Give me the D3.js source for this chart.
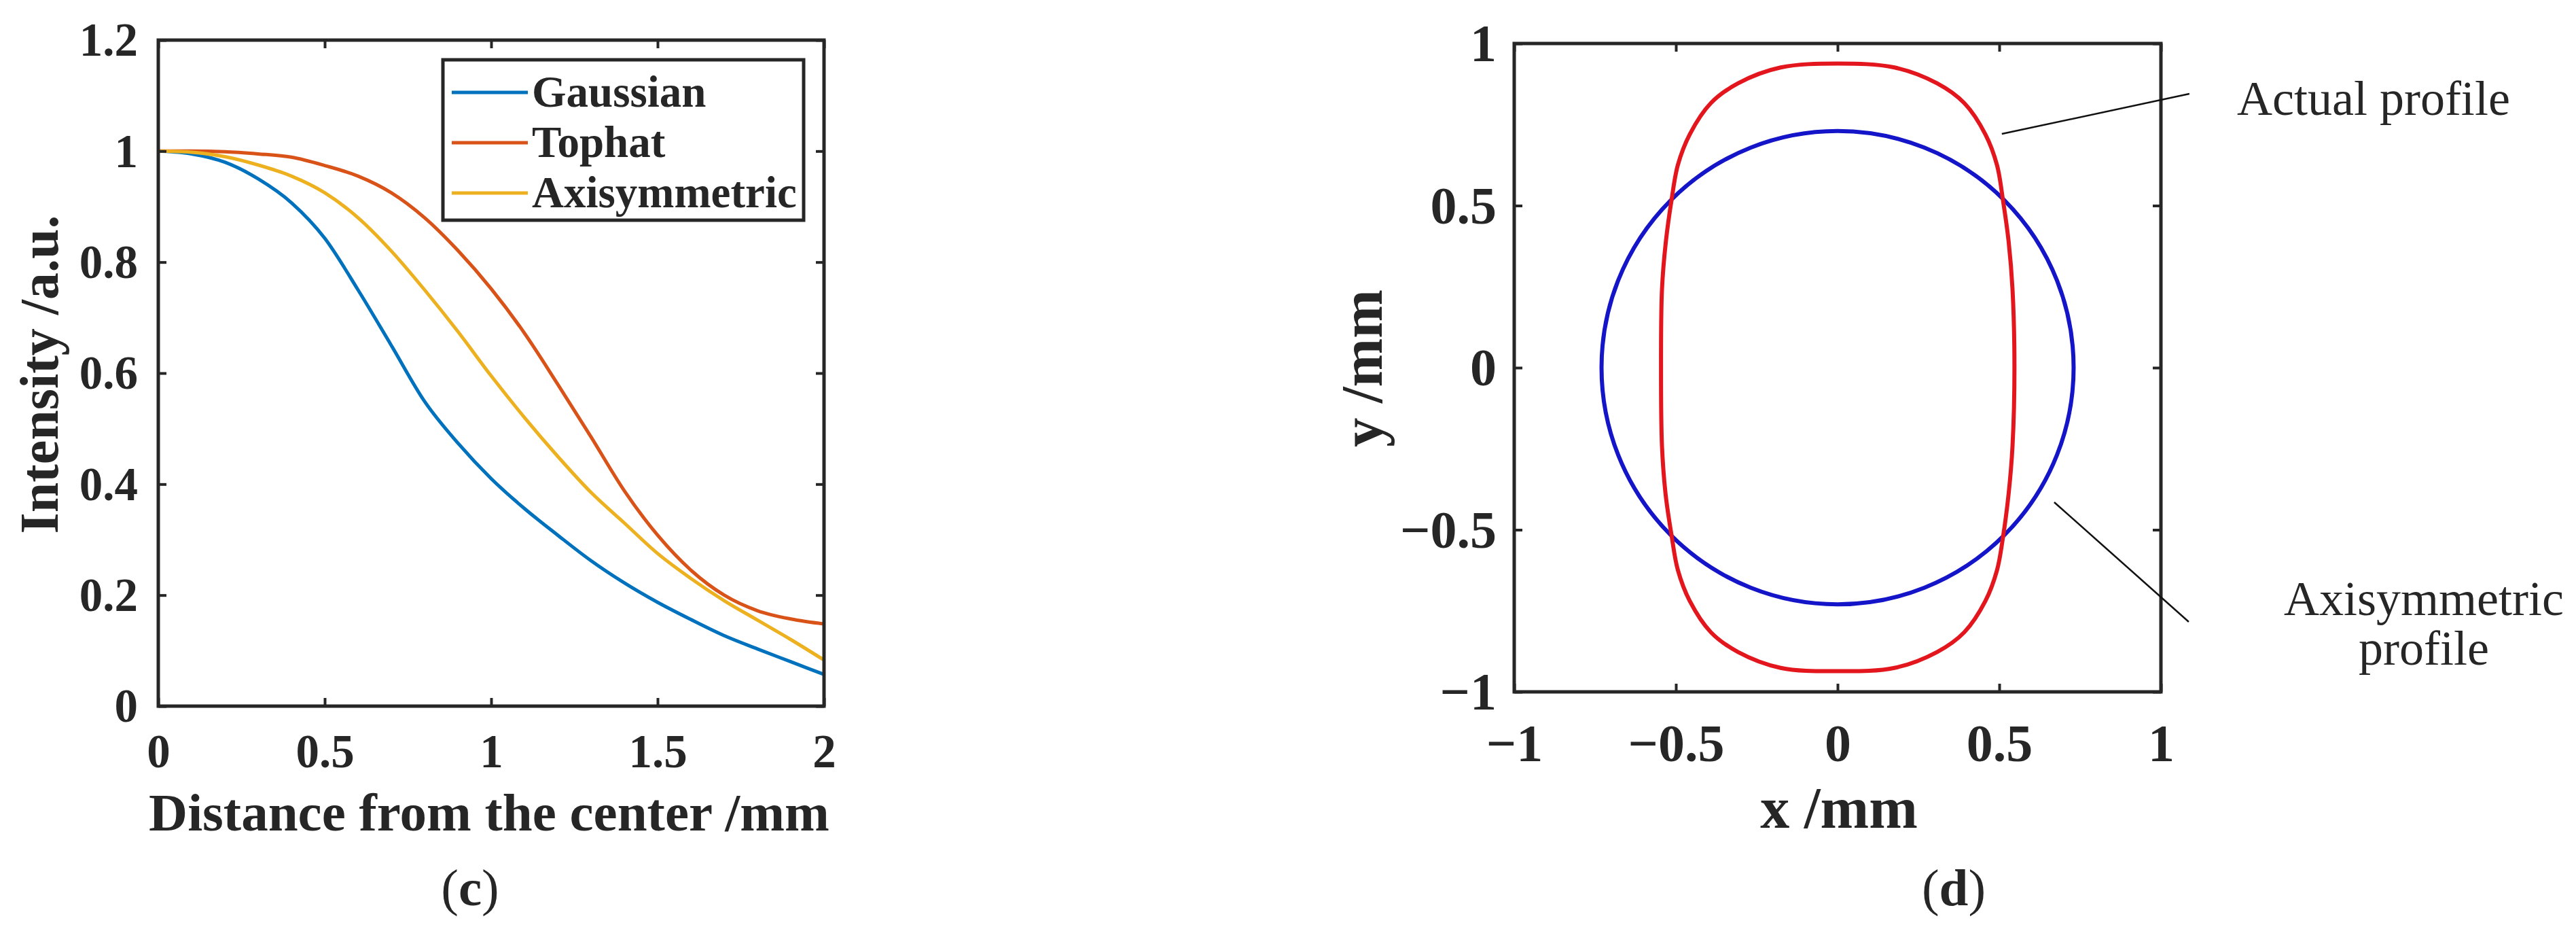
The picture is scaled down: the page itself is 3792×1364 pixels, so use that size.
<!DOCTYPE html>
<html>
<head>
<meta charset="utf-8">
<script src="https://cdn.jsdelivr.net/npm/d3@7"></script>
<style>
body { margin: 0; background: #fff; }
svg text { font-family: "Liberation Serif", "Times New Roman", serif; fill: #262626; }
</style>
</head>
<body>
<div id="chart"></div>
<script>

// ---- panel (c): intensity profiles ----
var distance = [0, 0.1, 0.2, 0.3, 0.4, 0.5, 0.6, 0.7, 0.8, 0.9, 1.0, 1.1, 1.2, 1.3, 1.4, 1.5, 1.6, 1.7, 1.8, 1.9, 2.0];
var gaussian = [1.0, 0.995, 0.98, 0.95, 0.907, 0.843, 0.75, 0.65, 0.549, 0.474, 0.41, 0.356, 0.308, 0.262, 0.222, 0.187, 0.156, 0.127, 0.103, 0.08, 0.057];
var tophat   = [1.0, 1.0, 0.999, 0.995, 0.989, 0.974, 0.955, 0.925, 0.88, 0.821, 0.752, 0.672, 0.58, 0.485, 0.388, 0.308, 0.245, 0.2, 0.172, 0.157, 0.148];
var axisym   = [1.0, 0.998, 0.99, 0.975, 0.955, 0.925, 0.88, 0.82, 0.75, 0.675, 0.595, 0.52, 0.45, 0.385, 0.33, 0.275, 0.23, 0.19, 0.155, 0.12, 0.083];
var seriesNames = ["Gaussian", "Tophat", "Axisymmetric"];
var seriesColors = ["#0072bd", "#d95319", "#edb120"];
var cTicksX = [0, 0.5, 1, 1.5, 2];
var cTicksY = [0, 0.2, 0.4, 0.6, 0.8, 1, 1.2];

// ---- panel (d): beam profiles ----
var actualX = [0, 0.176, 0.308, 0.392, 0.457, 0.493, 0.511, 0.529, 0.541, 0.547, 0.541, 0.529, 0.512, 0.493, 0.457, 0.392, 0.308, 0.176,
               0, -0.176, -0.308, -0.392, -0.457, -0.494, -0.513, -0.532, -0.543, -0.546, -0.543, -0.531, -0.513, -0.494, -0.457, -0.392, -0.308, -0.176];
var actualY = [0.938, 0.926, 0.877, 0.816, 0.72, 0.625, 0.52, 0.389, 0.242, 0, -0.242, -0.389, -0.52, -0.625, -0.72, -0.816, -0.877, -0.926,
               -0.936, -0.926, -0.877, -0.816, -0.72, -0.624, -0.52, -0.389, -0.242, 0, 0.242, 0.389, 0.52, 0.625, 0.72, 0.816, 0.877, 0.926];
var axisymRadius = [0.73];
var dTicks = [-1, -0.5, 0, 0.5, 1];
var leaderActual = [[0.508, 0.721], [1.088, 0.845]];
var leaderAxisym = [[0.67, -0.415], [1.086, -0.784]];

var axisColor = "#262626";

var svg = d3.select("#chart")
            .append("svg")
            .attr("width", 3792)
            .attr("height", 1364);
svg.append("rect").attr("width", 3792).attr("height", 1364).attr("fill", "#fff");

// inward ticks on all four sides, like a matlab box
function boxAxes(g, x, y, xt, yt, fmt, opt) {
  var x0 = x.range()[0], x1 = x.range()[1];
  var y0 = y.range()[0], y1 = y.range()[1];

  var axes = [
    {a: d3.axisBottom(x).tickValues(xt), t: "translate(0," + y0 + ")", lab: true},
    {a: d3.axisTop(x).tickValues(xt), t: "translate(0," + y1 + ")", lab: false},
    {a: d3.axisLeft(y).tickValues(yt), t: "translate(" + x0 + ",0)", lab: true},
    {a: d3.axisRight(y).tickValues(yt), t: "translate(" + x1 + ",0)", lab: false}
  ];
  axes.forEach(function(ax, i) {
    var gg = g.append("g")
              .attr("transform", ax.t)
              .call(ax.a.tickSize(-opt.tick).tickFormat(fmt));
    gg.attr("font-family", null).attr("font-size", null);
    gg.select(".domain").remove();
    gg.selectAll("line").attr("stroke", axisColor).attr("stroke-width", 4);
    if (!ax.lab) { gg.selectAll("text").remove(); return; }
    var txt = gg.selectAll("text")
                .style("font-size", opt.font + "px")
                .style("font-weight", "bold");
    if (i == 0) {
      txt.attr("y", opt.xPad).attr("dy", null);
    } else {
      txt.attr("x", -opt.yPad).attr("dy", "0.33em");
    }
  });

  g.append("rect")
   .attr("x", x0).attr("y", y1)
   .attr("width", x1 - x0).attr("height", y0 - y1)
   .attr("fill", "none")
   .attr("stroke", axisColor)
   .attr("stroke-width", 5);
}

// ===================== (c) =====================
var xc = d3.scaleLinear().domain([0, 2]).range([233, 1213]);
var yc = d3.scaleLinear().domain([0, 1.2]).range([1039, 59]);
var gc = svg.append("g");

var curves = [gaussian, tophat, axisym];
var lineC = d3.line()
              .x(function(d) { return xc(d[0]); })
              .y(function(d) { return yc(d[1]); })
              .curve(d3.curveMonotoneX);

gc.selectAll("path.curve")
  .data(curves)
  .enter()
  .append("path")
  .attr("class", "curve")
  .attr("d", function(s) { return lineC(distance.map(function(v, i) { return [v, s[i]]; })); })
  .attr("fill", "none")
  .attr("stroke", function(d, i) { return seriesColors[i]; })
  .attr("stroke-width", 5);

boxAxes(gc, xc, yc, cTicksX, cTicksY, function(d) { return String(d); },
        {tick: 12, font: 69, xPad: 90, yPad: 30});

// legend
var leg = gc.append("g");
leg.append("rect")
   .attr("x", 652).attr("y", 88)
   .attr("width", 531).attr("height", 236)
   .attr("fill", "#fff")
   .attr("stroke", axisColor)
   .attr("stroke-width", 5);
seriesNames.forEach(function(name, i) {
  var cy = 136 + i * 74;
  leg.append("line")
     .attr("x1", 665).attr("x2", 777)
     .attr("y1", cy).attr("y2", cy)
     .attr("stroke", seriesColors[i])
     .attr("stroke-width", 5);
  leg.append("text")
     .attr("x", 783).attr("y", cy)
     .attr("dy", "0.33em")
     .style("font-size", "65px")
     .style("font-weight", "bold")
     .text(name);
});

gc.append("text")
  .attr("x", 720).attr("y", 1222)
  .attr("text-anchor", "middle")
  .style("font-size", "79px").style("font-weight", "bold")
  .text("Distance from the center /mm");

gc.append("text")
  .attr("transform", "translate(85,551) rotate(-90)")
  .attr("text-anchor", "middle")
  .style("font-size", "80px").style("font-weight", "bold")
  .text("Intensity /a.u.");

var capC = gc.append("text")
  .attr("x", 692).attr("y", 1332)
  .attr("text-anchor", "middle")
  .style("font-size", "77px");
capC.append("tspan").text("(");
capC.append("tspan").style("font-weight", "bold").text("c");
capC.append("tspan").text(")");

// ===================== (d) =====================
var xd = d3.scaleLinear().domain([-1, 1]).range([2229, 3181]);
var yd = d3.scaleLinear().domain([-1, 1]).range([1018, 64]);
var gd = svg.append("g");

gd.append("ellipse")
  .datum(axisymRadius[0])
  .attr("cx", xd(0)).attr("cy", yd(0))
  .attr("rx", function(r) { return xd(r) - xd(0); })
  .attr("ry", function(r) { return yd(0) - yd(r); })
  .attr("fill", "none")
  .attr("stroke", "#1414c8")
  .attr("stroke-width", 6);

var lineD = d3.line()
              .x(function(d) { return xd(d[0]); })
              .y(function(d) { return yd(d[1]); })
              .curve(d3.curveCatmullRomClosed.alpha(0.5));
gd.append("path")
  .attr("d", lineD(actualX.map(function(v, i) { return [v, actualY[i]]; })))
  .attr("fill", "none")
  .attr("stroke", "#e3161e")
  .attr("stroke-width", 6);

boxAxes(gd, xd, yd, dTicks, dTicks,
        function(d) { return (d < 0 ? "\u2212" : "") + Math.abs(d); },
        {tick: 12, font: 78, xPad: 102, yPad: 26});

[leaderActual, leaderAxisym].forEach(function(l) {
  gd.append("line")
    .attr("x1", xd(l[0][0])).attr("y1", yd(l[0][1]))
    .attr("x2", xd(l[1][0])).attr("y2", yd(l[1][1]))
    .attr("stroke", "#111")
    .attr("stroke-width", 2.5);
});

gd.append("text").attr("x", 3293).attr("y", 169)
  .style("font-size", "72px").text("Actual profile");
gd.append("text").attr("x", 3568).attr("y", 905)
  .attr("text-anchor", "middle")
  .style("font-size", "72px").text("Axisymmetric");
gd.append("text").attr("x", 3568).attr("y", 978)
  .attr("text-anchor", "middle")
  .style("font-size", "72px").text("profile");

gd.append("text")
  .attr("x", 2707).attr("y", 1218)
  .attr("text-anchor", "middle")
  .style("font-size", "86px").style("font-weight", "bold")
  .text("x /mm");

gd.append("text")
  .attr("transform", "translate(2034,542) rotate(-90)")
  .attr("text-anchor", "middle")
  .style("font-size", "86px").style("font-weight", "bold")
  .text("y /mm");

var capD = gd.append("text")
  .attr("x", 2876).attr("y", 1332)
  .attr("text-anchor", "middle")
  .style("font-size", "77px");
capD.append("tspan").text("(");
capD.append("tspan").style("font-weight", "bold").text("d");
capD.append("tspan").text(")");

</script>
</body>
</html>
